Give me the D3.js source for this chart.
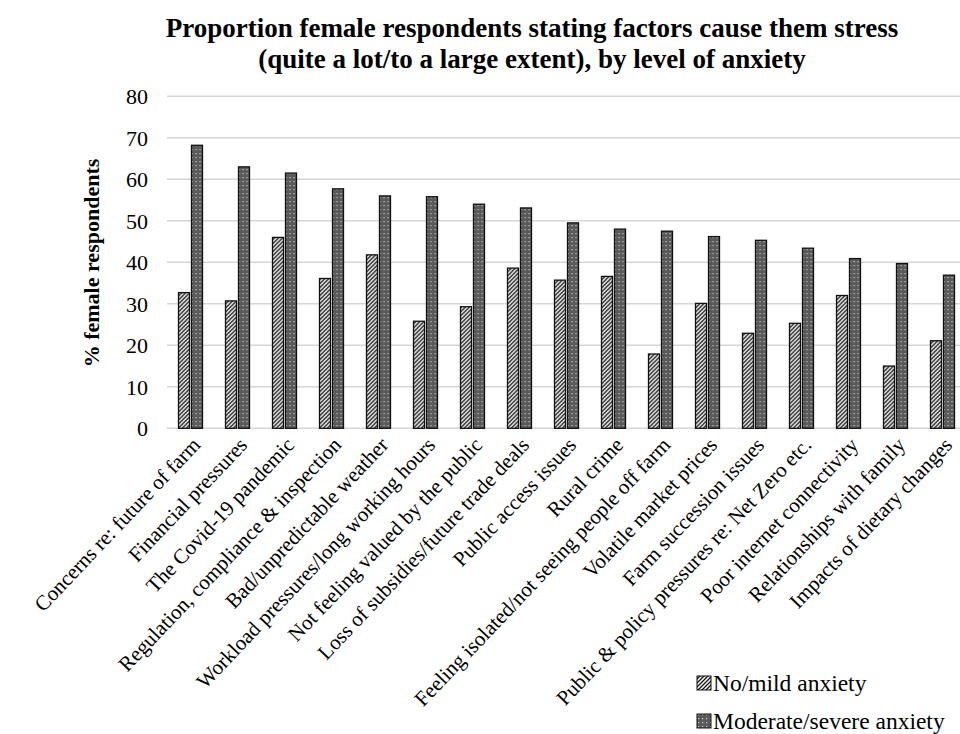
<!DOCTYPE html>
<html>
<head>
<meta charset="utf-8">
<script src="https://cdn.jsdelivr.net/npm/d3@7"></script>
<style>
body{margin:0;background:#fff;}
svg{display:block;}
text{font-family:"Liberation Serif","Times New Roman",serif;fill:#000;}
</style>
</head>
<body>
<svg id="chart" width="960" height="734"></svg>
<script>
const categories = [
  "Concerns re: future of farm",
  "Financial pressures",
  "The Covid-19 pandemic",
  "Regulation, compliance & inspection",
  "Bad/unpredictable weather",
  "Workload pressures/long working hours",
  "Not feeling valued by the public",
  "Loss of subsidies/future trade deals",
  "Public access issues",
  "Rural crime",
  "Feeling isolated/not seeing people off farm",
  "Volatile market prices",
  "Farm succession issues",
  "Public & policy pressures re: Net Zero etc.",
  "Poor internet connectivity",
  "Relationships with family",
  "Impacts of dietary changes"
];
const mildValues = [32.7, 30.7, 46.0, 36.1, 41.8, 25.8, 29.3, 38.6, 35.7, 36.6, 17.9, 30.1, 22.9, 25.3, 32.0, 15.0, 21.1];
const severeValues = [68.2, 63.0, 61.5, 57.7, 56.0, 55.8, 54.0, 53.1, 49.5, 48.0, 47.5, 46.2, 45.3, 43.4, 40.9, 39.7, 36.9];
const seriesNames = ["No/mild anxiety", "Moderate/severe anxiety"];
const yTicks = [0, 10, 20, 30, 40, 50, 60, 70, 80];
const titleLines = [
  "Proportion female respondents stating factors cause them stress",
  "(quite a lot/to a large extent), by level of anxiety"
];
const yTitle = "% female respondents";

const svg = d3.select("#chart");
const defs = svg.append("defs");

// hatch pattern for No/mild
const hatch = defs.append("pattern").attr("id","hatch").attr("patternUnits","userSpaceOnUse")
  .attr("width",4).attr("height",4);
hatch.append("rect").attr("width",4).attr("height",4).attr("fill","#fff");
hatch.append("path").attr("d","M-1,1 l2,-2 M0,4 l4,-4 M3,5 l2,-2")
  .attr("stroke","#111").attr("stroke-width",1.3);

// dotted pattern for Moderate/severe
const dots = defs.append("pattern").attr("id","dots").attr("patternUnits","userSpaceOnUse")
  .attr("width",4).attr("height",4);
dots.append("rect").attr("width",4).attr("height",4).attr("fill","#5a5a5a");
dots.append("rect").attr("x",1).attr("y",1).attr("width",1.2).attr("height",1.2).attr("fill","#c8c8c8");

const x0 = d3.scaleBand().domain(categories).range([167, 167 + 47*categories.length]).paddingInner(0).paddingOuter(0);
const y = d3.scaleLinear().domain([0, 80]).range([428.3, 96.3]);

// gridlines
svg.append("g").selectAll("line").data(yTicks).join("line")
  .attr("x1",167).attr("x2",960)
  .attr("y1",d=>y(d)).attr("y2",d=>y(d))
  .attr("stroke","#d6d6d6").attr("stroke-width",1.5);

// y tick labels
svg.append("g").selectAll("text").data(yTicks).join("text")
  .attr("x",148).attr("y",d=>y(d)).attr("dy","0.35em")
  .attr("text-anchor","end").attr("font-size",22).text(d=>d);

// bars
const barW = 11, gap = 2;
const groups = svg.append("g").selectAll("g").data(categories).join("g")
  .attr("transform", c => `translate(${x0(c) + x0.bandwidth()/2},0)`);
groups.append("rect")
  .attr("x", -barW - gap/2)
  .attr("y", (c,i) => y(mildValues[i]))
  .attr("width", barW)
  .attr("height", (c,i) => y(0) - y(mildValues[i]))
  .attr("fill","url(#hatch)").attr("stroke","#111").attr("stroke-width",1.3);
groups.append("rect")
  .attr("x", gap/2)
  .attr("y", (c,i) => y(severeValues[i]))
  .attr("width", barW)
  .attr("height", (c,i) => y(0) - y(severeValues[i]))
  .attr("fill","url(#dots)").attr("stroke","#111").attr("stroke-width",1.3);

// x labels
svg.append("g").selectAll("text").data(categories).join("text")
  .attr("transform", c => `translate(${x0(c) + x0.bandwidth()/2 + 11},${446}) rotate(-46.5)`)
  .attr("text-anchor","end").attr("font-size",21).text(c=>c);

// title
svg.append("g").selectAll("text").data(titleLines).join("text")
  .attr("x",532).attr("y",(d,i)=>37 + i*31)
  .attr("text-anchor","middle").attr("font-size",27).attr("font-weight","bold").text(d=>d);

// y title
svg.append("text")
  .attr("transform","translate(99,263) rotate(-90)")
  .attr("text-anchor","middle").attr("font-size",22).attr("font-weight","bold").text(yTitle);

// legend
const legend = svg.append("g").selectAll("g").data(seriesNames).join("g")
  .attr("transform",(d,i)=>`translate(697,${691 + i*38})`);
legend.append("rect").attr("x",0).attr("y",-15).attr("width",14).attr("height",14)
  .attr("fill",(d,i)=> i===0 ? "url(#hatch)" : "url(#dots)")
  .attr("stroke","#111").attr("stroke-width",1);
legend.append("text").attr("x",16).attr("y",0).attr("font-size",23.5).text(d=>d);
</script>
</body>
</html>
